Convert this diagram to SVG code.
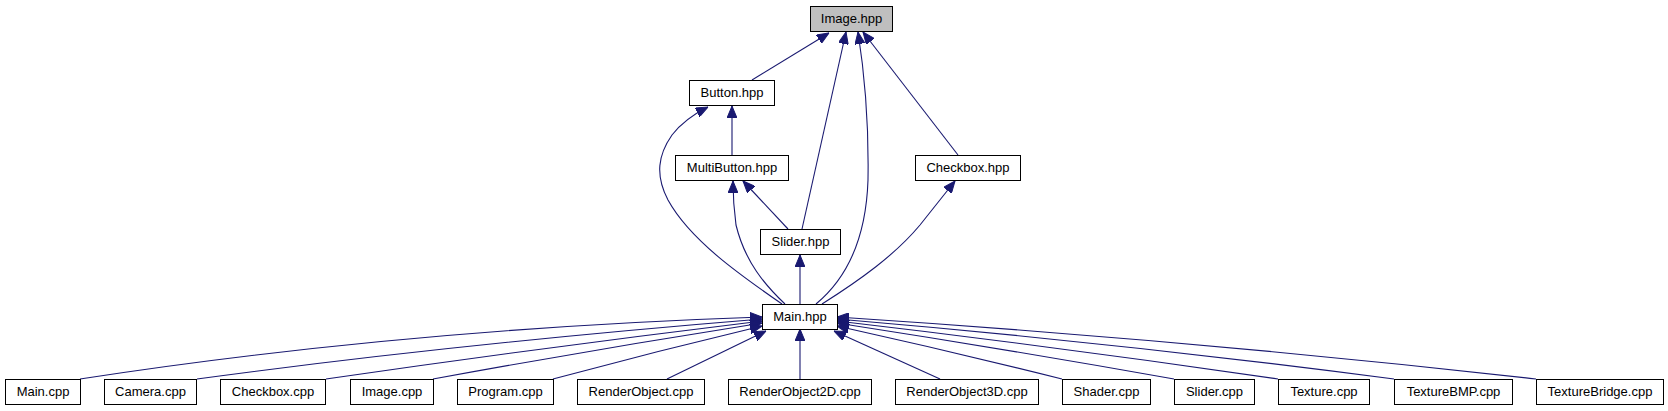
<svg xmlns="http://www.w3.org/2000/svg" width="1668" height="411" viewBox="0 0 1668 411">
<style>
.node rect{fill:#ffffff;stroke:#000000;stroke-width:1}
.node text{font-family:"Liberation Sans",Arial,sans-serif;font-size:13px;fill:#000000;text-anchor:middle}
#n_image_hpp rect{fill:#bfbfbf}
.edges path{fill:none;stroke:#191970;stroke-width:1.1;marker-end:url(#arr)}
</style>
<defs>
<marker id="arr" viewBox="0 0 12 10" markerWidth="12" markerHeight="10" refX="12" refY="5" markerUnits="userSpaceOnUse" orient="auto">
<path d="M0,0 L12,5 L0,10 Z" fill="#191970" stroke="#191970" stroke-width="1"/>
</marker>
</defs>
<rect width="1668" height="411" fill="#ffffff"/>
<g class="edges">
<path d="M752,80 L829,33"/>
<path d="M732,155 L732,106"/>
<path d="M802,229 L846,32"/>
<path d="M816,304 C845,280 866,240 868,180 C869,120 864,70 858,32"/>
<path d="M958,155 L863,32"/>
<path d="M782,304 C740,275 690,240 668,200 C655,175 658,155 672,135 C682,122 694,114 708,107"/>
<path d="M785,304 C765,285 745,262 736,225 C734,210 733,195 733,181"/>
<path d="M788,229 L743,181"/>
<path d="M800,304 L800,255"/>
<path d="M822,304 C860,280 895,255 920,225 C932,210 943,196 955,181"/>
<path d="M80,379 Q405,329 762,317"/>
<path d="M197,379 Q455,344 762,319"/>
<path d="M326,379 Q540,348 762,321"/>
<path d="M433,379 Q597,349 762,323"/>
<path d="M553,379 Q657,351 762,326"/>
<path d="M667,379 L766,331"/>
<path d="M800,379 L800,329"/>
<path d="M940,379 L834,331"/>
<path d="M1062,379 Q950,351 837,326"/>
<path d="M1174,379 Q1005,349 837,323"/>
<path d="M1278,379 Q1060,347 837,321"/>
<path d="M1394,379 Q1120,343 837,319"/>
<path d="M1536,379 Q1190,340 837,317"/>
</g>
<g id="n_image_hpp" class="node"><rect x="810.5" y="6.5" width="82" height="25"/><text x="851.5" y="23">Image.hpp</text></g>
<g id="n_button_hpp" class="node"><rect x="689.5" y="80.5" width="85" height="25"/><text x="732" y="97">Button.hpp</text></g>
<g id="n_multibutton_hpp" class="node"><rect x="675.5" y="155.5" width="113" height="25"/><text x="732" y="172">MultiButton.hpp</text></g>
<g id="n_checkbox_hpp" class="node"><rect x="915.5" y="155.5" width="105" height="25"/><text x="968" y="172">Checkbox.hpp</text></g>
<g id="n_slider_hpp" class="node"><rect x="760.5" y="229.5" width="80" height="25"/><text x="800.5" y="246">Slider.hpp</text></g>
<g id="n_main_hpp" class="node"><rect x="762.5" y="304.5" width="75" height="25"/><text x="800" y="321">Main.hpp</text></g>
<g id="n_main_cpp" class="node"><rect x="5.5" y="379.5" width="75" height="25"/><text x="43" y="396">Main.cpp</text></g>
<g id="n_camera_cpp" class="node"><rect x="104.5" y="379.5" width="92" height="25"/><text x="150.5" y="396">Camera.cpp</text></g>
<g id="n_checkbox_cpp" class="node"><rect x="220.5" y="379.5" width="105" height="25"/><text x="273" y="396">Checkbox.cpp</text></g>
<g id="n_image_cpp" class="node"><rect x="350.5" y="379.5" width="83" height="25"/><text x="392" y="396">Image.cpp</text></g>
<g id="n_program_cpp" class="node"><rect x="457.5" y="379.5" width="96" height="25"/><text x="505.5" y="396">Program.cpp</text></g>
<g id="n_renderobject_cpp" class="node"><rect x="577.5" y="379.5" width="127" height="25"/><text x="641" y="396">RenderObject.cpp</text></g>
<g id="n_renderobject2d_cpp" class="node"><rect x="728.5" y="379.5" width="143" height="25"/><text x="800" y="396">RenderObject2D.cpp</text></g>
<g id="n_renderobject3d_cpp" class="node"><rect x="895.5" y="379.5" width="143" height="25"/><text x="967" y="396">RenderObject3D.cpp</text></g>
<g id="n_shader_cpp" class="node"><rect x="1062.5" y="379.5" width="88" height="25"/><text x="1106.5" y="396">Shader.cpp</text></g>
<g id="n_slider_cpp" class="node"><rect x="1174.5" y="379.5" width="80" height="25"/><text x="1214.5" y="396">Slider.cpp</text></g>
<g id="n_texture_cpp" class="node"><rect x="1278.5" y="379.5" width="91" height="25"/><text x="1324" y="396">Texture.cpp</text></g>
<g id="n_texturebmp_cpp" class="node"><rect x="1394.5" y="379.5" width="118" height="25"/><text x="1453.5" y="396">TextureBMP.cpp</text></g>
<g id="n_texturebridge_cpp" class="node"><rect x="1536.5" y="379.5" width="127" height="25"/><text x="1600" y="396">TextureBridge.cpp</text></g>
</svg>
